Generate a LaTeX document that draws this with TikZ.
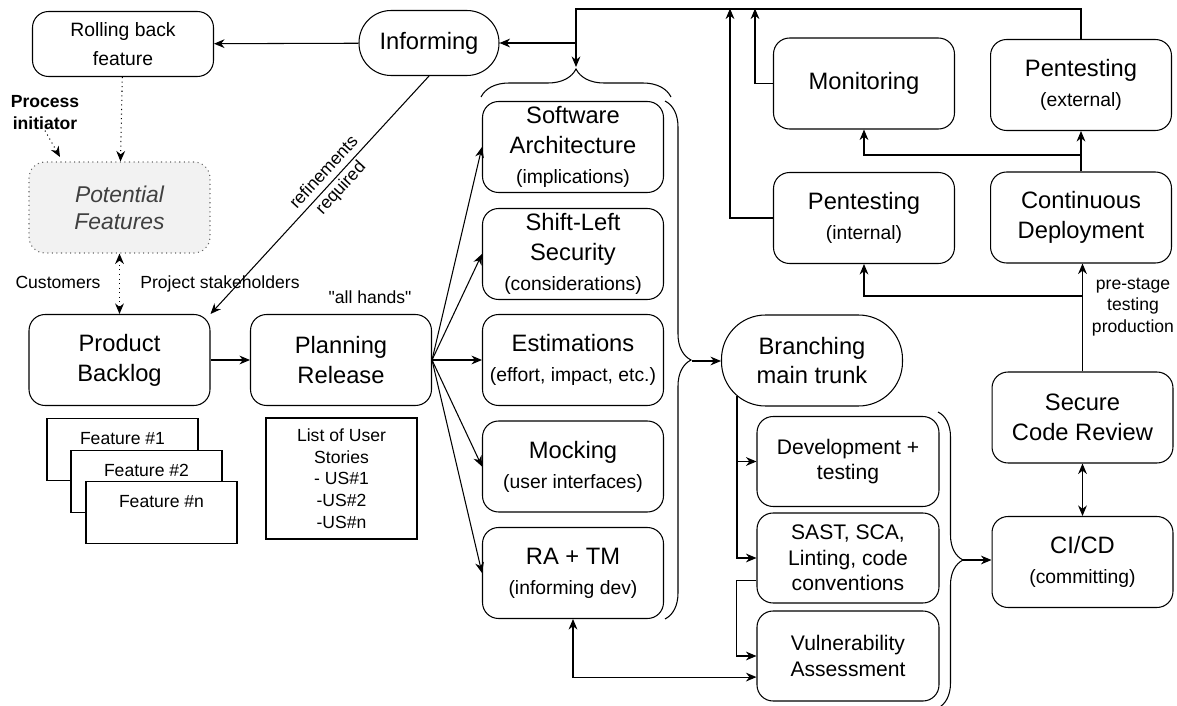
\documentclass[tikz,border=0pt]{standalone}
\usepackage{fontspec}
\setmainfont{Liberation Sans}
\usetikzlibrary{arrows.meta,calc,decorations.pathreplacing}

\newcommand{\fmain}{\fontsize{13.5}{17}\selectfont}
\newcommand{\fsub}{\fontsize{11}{17}\selectfont}
\newcommand{\fsmall}{\fontsize{10}{12.3}\selectfont}
\newcommand{\subline}[1]{{\fsub #1}}

\tikzset{
  box/.style={draw, rounded corners=0.32cm, minimum width=3.62cm, minimum height=1.82cm,
    align=center, inner sep=0pt, font=\fmain},
  stadium/.style={draw, rounded corners=0.64cm, minimum width=2.8cm, minimum height=1.3cm,
    inner sep=0pt, font=\fmain},
  devbox/.style={box, minimum width=3.64cm, minimum height=1.8cm, font=\fontsize{12}{14.6}\selectfont},
  featbox/.style={draw, fill=white, minimum width=3.02cm, anchor=north, inner sep=0pt,
    text height=15pt, text depth=20.2pt, font=\fsmall},
  note/.style={align=center, inner sep=0pt, font=\fsmall},
  arr/.style={->},
  dotarr/.style={->, dotted},
  twoarr/.style={<->},
  bracedeco/.style={decorate, decoration={brace, amplitude=#1}}
}

\begin{document}
\begin{tikzpicture}[x=0.02cm, y=-0.02cm, line width=0.6pt, >={Stealth[length=6pt,width=5pt]}]
\useasboundingbox (0,0) rectangle (1177,706);

% left side
\node[box, minimum height=1.3cm, font=\fontsize{11}{16.5}\selectfont] (rollback) at (123,44) {Rolling back\\feature};
\node[stadium] (informing) at (429,43) {Informing};
\node[box, draw=black!60, dotted, fill=black!5, text=black!75,
  font=\fontsize{13}{15.5}\selectfont\itshape] (potential) at (119.5,207.5) {Potential\\Features};
\node[note, font=\fontsize{10}{12.5}\selectfont\bfseries] (initiator) at (45,113) {Process\\initiator};
\coordinate (inittip) at (60,157);
\node[note] (customers) at (58,282) {Customers};
\node[note] (stakeholders) at (220,284) {Project stakeholders};
\node[note] (allhands) at (370,297) {\textquotedbl all hands\textquotedbl};

\node[box] (prodback) at (119.5,360) {Product\\Backlog};
\node[box] (planrel) at (341,360) {Planning\\Release};

\node[featbox] (feat1) at (122.5,418) {Feature \#1};
\node[featbox] (feat2) at (146.5,450) {Feature \#2};
\node[featbox] (featn) at (161.5,481) {Feature \#n};
\node[draw, minimum width=3.02cm, minimum height=2.42cm, note] (stories) at (341.5,478.5)
  {List of User\\Stories\\- US\#1\\-US\#2\\-US\#n};

% planning column
\node[box] (softarch) at (573,147) {Software\\Architecture\\\subline{(implications)}};
\node[box] (shiftleft) at (573,254) {Shift-Left\\Security\\\subline{(considerations)}};
\node[box] (estim) at (573,360) {Estimations\\\subline{(effort, impact, etc.)}};
\node[box] (mocking) at (573,466.5) {Mocking\\\subline{(user interfaces)}};
\node[box] (ratm) at (573,573) {RA + TM\\\subline{(informing dev)}};

% development
\node[box, rounded corners=0.88cm] (branching) at (812,360.5) {Branching\\main trunk};
\node[devbox] (devtest) at (848,461.5) {Development +\\testing};
\node[devbox] (sast) at (848,558) {SAST, SCA,\\Linting, code\\conventions};
\node[devbox] (vuln) at (848,656) {Vulnerability\\Assessment};

% right side
\node[box] (monitor) at (864,83.5) {Monitoring};
\node[box] (penext) at (1081,85) {Pentesting\\\subline{(external)}};
\node[box] (penint) at (864,218) {Pentesting\\\subline{(internal)}};
\node[box] (contdep) at (1081,217.5) {Continuous\\Deployment};
\node[box] (securecr) at (1082.5,417.5) {Secure\\Code Review};
\node[box] (cicd) at (1082.5,562) {CI/CD\\\subline{(committing)}};
\node[note] (prestage) at (1133,307) {pre-stage\\testing\\production};

% braces
\draw[bracedeco=0.56cm] (481,97) -- (671,97);
\draw[bracedeco=0.52cm] (665,101) -- (665,619);
\draw[bracedeco=0.5cm] (938,412) -- (938,708);
\coordinate (archtip) at (576,67);
\coordinate (infojoin) at (576,43);
\coordinate (branchtip) at (692,361);
\coordinate (cicdtip) at (963,560);
\coordinate (trunktop) at (737,396);
\coordinate (montop) at (755,8.5);
\coordinate (pinttop) at (730,8.5);

% connectors
\draw[arr] (informing) -- (rollback);
\draw[dotarr] (rollback) -- (potential);
\draw[dotarr] (initiator.south) -- (inittip);
\draw[dotarr, <->] (potential) -- (prodback);
\draw[arr] (informing.south) -- node[sloped, note, pos=0.44, font=\fontsize{10}{13}\selectfont] {refinements\\required} (prodback.north east);
\draw[arr] (prodback) -- (planrel);
\foreach \n in {softarch,shiftleft,estim,mocking,ratm}
  \draw[arr] (planrel.east) -- (\n.west);

\draw[arr] (penext.north) -- ++(0,-30) -| (archtip);
\draw[arr] (infojoin) -- (informing.east);
\draw[arr] (monitor.west) -| (montop);
\draw[arr] (penint.west) -| (pinttop);
\draw[arr] (contdep) -- (penext);
\draw[arr] (contdep.north |- 0,155) -| (monitor.south);
\draw[arr] (securecr.north) -- (securecr.north |- contdep.south);
\draw[arr] (securecr.north |- 0,296) -| (penint.south);
\draw[twoarr] (securecr) -- (cicd);

\draw[arr] (branchtip) -- (branching.west |- branchtip);
\draw[arr] (trunktop) |- (devtest.west);
\draw[arr] (trunktop) |- (sast.west);
\draw[arr] ([yshift=-13pt]sast.west) -- ++(-20,0) |- (vuln.west);
\draw[twoarr] (ratm.south) |- ([yshift=-12pt]vuln.west);
\draw[arr] (cicdtip) -- (cicd.west |- cicdtip);
\end{tikzpicture}
\end{document}
